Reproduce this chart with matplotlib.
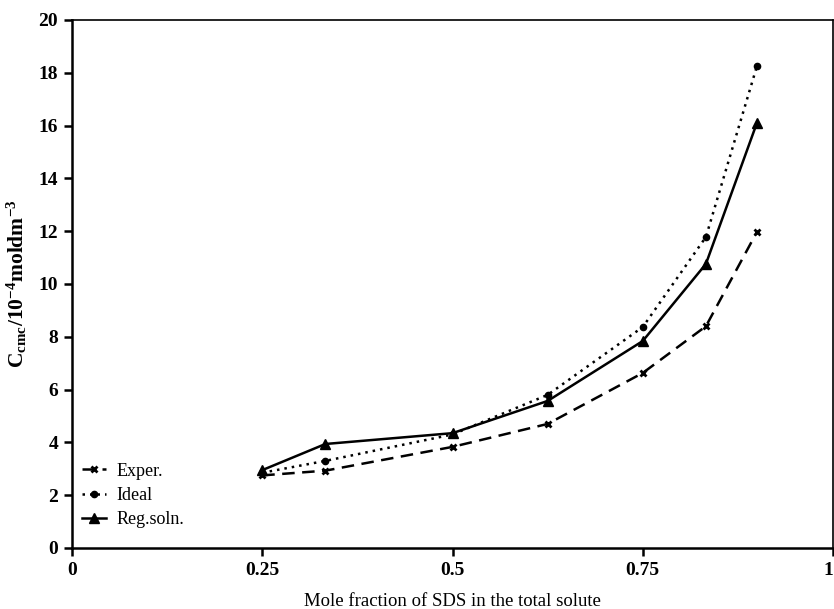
import matplotlib.pyplot as plt

plt.rcParams['font.family'] = ['Liberation Serif', 'DejaVu Serif']
plt.rcParams['mathtext.fontset'] = 'custom'
plt.rcParams['mathtext.rm'] = 'Liberation Serif:bold'
plt.rcParams['mathtext.it'] = 'Liberation Serif:bold'

x_frac = [0.25, 0.333, 0.5, 0.625, 0.75, 0.833, 0.9]
exper = [2.75, 2.93, 3.83, 4.7, 6.63, 8.4, 11.97]
ideal = [2.85, 3.3, 4.3, 5.8, 8.37, 11.78, 18.25]
reg_soln = [2.95, 3.94, 4.35, 5.57, 7.84, 10.76, 16.1]

xticks = [0, 0.25, 0.5, 0.75, 1]
xtick_labels = ['0', '0.25', '0.5', '0.75', '1']
yticks = [0, 2, 4, 6, 8, 10, 12, 14, 16, 18, 20]

fig = plt.figure(figsize=(8.34, 6.09), dpi=100)
ax = fig.add_axes([72/834, 1-548/609, 761/834, 528/609])

ax.plot(x_frac, exper, color='black', linestyle=(0, (5, 3)), lw=1.8,
        marker='x', ms=5, mew=2, label='Exper.')
ax.plot(x_frac, ideal, color='black', linestyle=(0, (1, 2)), lw=1.8,
        marker='o', ms=4.5, label='Ideal')
ax.plot(x_frac, reg_soln, color='black', linestyle='-', lw=1.8,
        marker='^', ms=7, label='Reg.soln.')

ax.set_xlim(0, 1)
ax.set_ylim(0, 20)
ax.set_xticks(xticks)
ax.set_xticklabels(xtick_labels)
ax.set_yticks(yticks)
for s in ax.spines.values():
    s.set_linewidth(1.8)
ax.spines['top'].set_linewidth(1.2)
ax.spines['right'].set_linewidth(1.2)
ax.tick_params(direction='out', length=6, width=1.8, labelsize=14, pad=4)
for lab in ax.get_xticklabels() + ax.get_yticklabels():
    lab.set_fontweight('bold')
# last x label sits on the figure edge, keep it inside
ax.get_xticklabels()[-1].set_horizontalalignment('right')

ax.set_xlabel('Mole fraction of SDS in the total solute', fontsize=13.5, labelpad=10)
ax.set_ylabel(r'C$_{\rm cmc}$/10$^{-4}$moldm$^{-3}$', fontsize=15.5, fontweight='bold', labelpad=7)

leg = ax.legend(loc='lower left', bbox_to_anchor=(-0.008, 0.007), frameon=False,
                fontsize=13, handlelength=1.3, handletextpad=0.6, labelspacing=0.4)

fig.savefig('out.png', dpi=100)
